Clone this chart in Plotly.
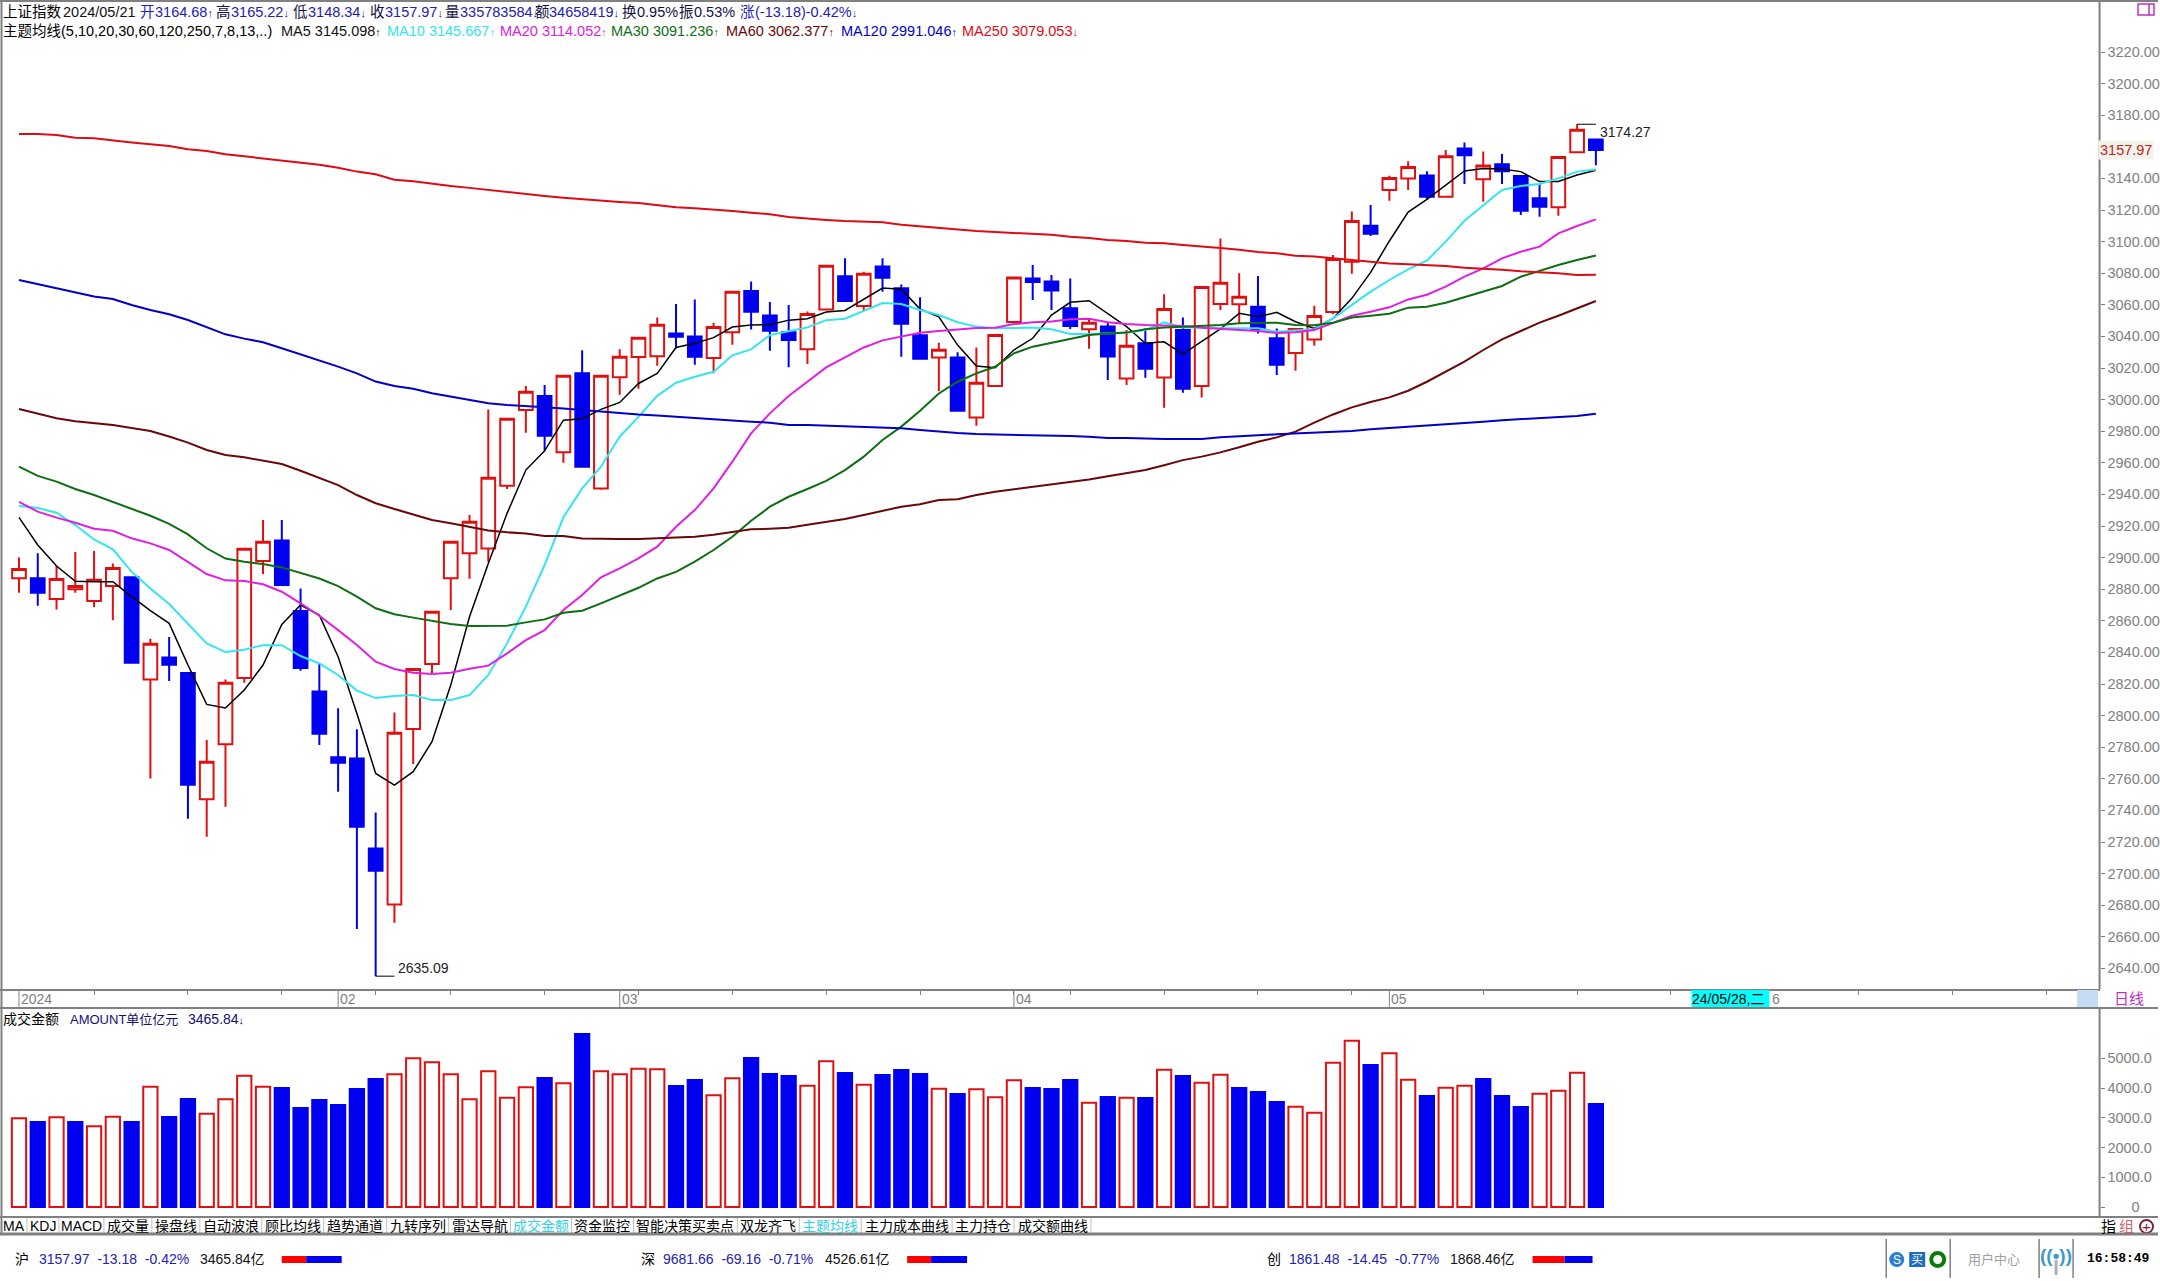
"""
Shanghai Composite daily K-line terminal screen, 2024/01 - 2024/05/21
"""

import plotly.graph_objects as go

W, H = 2160, 1281

open_px = [2886.9, 2886.9, 2873.8, 2879.9, 2872.5, 2882.0, 2887.5, 2822.9, 2836.8, 2826.9,
           2747.0, 2781.8, 2823.8, 2897.8, 2910.9, 2866.2, 2815.3, 2773.6, 2772.9, 2715.9,
           2680.5, 2791.5, 2832.6, 2886.9, 2902.7, 2905.8, 2945.5, 2993.4, 3002.2, 2966.6,
           3016.6, 2943.8, 3014.2, 3026.9, 3027.5, 3041.9, 3040.0, 3026.3, 3042.7, 3068.7,
           3053.3, 3042.7, 3031.8, 3057.1, 3078.0, 3059.2, 3084.3, 3070.4, 3040.8, 3026.7,
           3026.7, 2988.7, 3008.6, 3049.1, 3076.7, 3074.8, 3057.8, 3044.5, 3046.2, 3013.4,
           3035.6, 3014.0, 3044.0, 3008.6, 3060.5, 3060.3, 3058.8, 3038.8, 3029.5, 3038.1,
           3055.4, 3087.3, 3110.1, 3132.7, 3140.0, 3141.9, 3128.4, 3159.0, 3139.4, 3148.9,
           3141.5, 3127.4, 3121.7, 3156.5, 3164.68]
close_px = [2892.8, 2877.8, 2886.4, 2882.0, 2886.0, 2893.4, 2833.5, 2845.5, 2832.2, 2756.2,
            2770.8, 2820.8, 2905.6, 2910.1, 2882.6, 2830.1, 2788.5, 2770.2, 2729.7, 2701.8,
            2789.2, 2829.5, 2865.8, 2910.1, 2922.7, 2950.5, 2987.9, 3005.0, 2977.1, 3015.1,
            2957.5, 3015.1, 3027.1, 3039.1, 3047.4, 3039.8, 3027.1, 3045.9, 3068.3, 3055.6,
            3043.6, 3037.7, 3054.1, 3084.7, 3062.4, 3079.7, 3077.1, 3048.0, 3025.9, 3031.5,
            2992.9, 3010.7, 3040.9, 3077.2, 3074.4, 3069.0, 3046.6, 3048.7, 3027.2, 3034.1,
            3019.6, 3057.3, 3006.9, 3071.3, 3074.0, 3065.1, 3044.5, 3022.1, 3044.7, 3052.9,
            3089.0, 3113.0, 3105.0, 3140.3, 3147.2, 3128.4, 3154.0, 3154.6, 3148.1, 3144.5,
            3119.6, 3122.1, 3153.5, 3170.8, 3157.97]
high_px = [2900.1, 2902.7, 2894.7, 2903.5, 2904.2, 2896.3, 2887.5, 2848.7, 2849.7, 2827.0,
           2784.5, 2822.9, 2906.3, 2923.8, 2923.8, 2880.5, 2833.0, 2804.6, 2791.3, 2738.7,
           2802.0, 2829.5, 2866.4, 2910.1, 2926.9, 2993.8, 2987.9, 3008.6, 3009.2, 3015.1,
           3031.3, 3015.1, 3031.8, 3039.5, 3052.0, 3060.5, 3063.4, 3048.6, 3068.3, 3074.8,
           3061.7, 3059.8, 3055.8, 3084.7, 3089.4, 3080.9, 3089.4, 3072.9, 3064.7, 3036.0,
           3029.9, 3033.0, 3041.0, 3077.6, 3085.2, 3078.9, 3076.7, 3051.4, 3049.0, 3044.0,
           3045.0, 3066.6, 3052.0, 3071.6, 3102.0, 3079.9, 3078.2, 3045.0, 3044.9, 3059.4,
           3091.5, 3119.0, 3123.2, 3141.7, 3150.8, 3144.5, 3158.0, 3162.8, 3157.1, 3155.4,
           3142.0, 3137.0, 3153.8, 3174.27, 3165.22]
low_px = [2877.8, 2869.6, 2867.2, 2877.8, 2868.5, 2860.3, 2833.0, 2760.2, 2821.9, 2734.7,
          2723.3, 2742.3, 2820.8, 2889.6, 2882.0, 2828.4, 2781.4, 2751.8, 2664.9, 2635.09,
          2668.9, 2769.3, 2826.7, 2866.8, 2886.6, 2897.4, 2943.4, 2979.0, 2968.0, 2960.0,
          2957.0, 2943.0, 3003.0, 3006.9, 3021.4, 3032.4, 3022.0, 3016.6, 3034.7, 3044.4,
          3030.9, 3020.4, 3022.5, 3056.5, 3062.0, 3056.0, 3068.3, 3027.1, 3025.4, 3005.4,
          2992.3, 2983.4, 3007.9, 3047.9, 3063.0, 3056.7, 3044.7, 3032.2, 3012.4, 3009.2,
          3013.9, 2994.9, 3004.4, 3001.4, 3056.7, 3048.3, 3041.9, 3015.5, 3018.3, 3034.1,
          3054.0, 3079.7, 3103.5, 3125.9, 3132.7, 3126.3, 3128.0, 3136.5, 3125.3, 3136.5,
          3116.8, 3115.8, 3116.4, 3155.9, 3148.34]

ma5 = [2925.5, 2908.0, 2894.7, 2885.0, 2884.7, 2884.7, 2875.3, 2866.4, 2858.4, 2832.0,
       2807.1, 2804.8, 2816.2, 2832.0, 2857.7, 2870.0, 2863.6, 2837.3, 2801.4, 2763.4,
       2756.0, 2764.5, 2783.5, 2819.3, 2862.6, 2896.3, 2928.0, 2955.4, 2967.6, 2987.0,
       2987.9, 2993.8, 2998.2, 3010.2, 3016.6, 3033.0, 3035.6, 3039.2, 3045.9, 3047.2,
       3047.4, 3050.3, 3051.2, 3055.4, 3056.4, 3063.6, 3070.6, 3069.9, 3057.3, 3052.4,
       3034.5, 3021.3, 3020.2, 3031.4, 3038.8, 3053.5, 3061.6, 3062.6, 3054.2, 3046.2,
       3035.6, 3036.6, 3028.8, 3036.6, 3044.7, 3054.6, 3052.5, 3055.2, 3049.3, 3045.1,
       3051.4, 3064.1, 3080.5, 3100.4, 3118.7, 3126.7, 3135.8, 3144.7, 3146.2, 3146.0,
       3144.3, 3138.0, 3138.1, 3142.2, 3145.098]
ma10 = [2932.6, 2931.4, 2928.4, 2920.6, 2911.5, 2905.2, 2891.1, 2880.5, 2870.6, 2858.4,
        2845.7, 2840.2, 2841.7, 2844.6, 2844.6, 2837.7, 2833.0, 2825.7, 2815.8, 2811.1,
        2812.4, 2813.0, 2809.8, 2809.8, 2813.0, 2825.7, 2845.7, 2869.0, 2895.3, 2925.5,
        2943.8, 2957.5, 2976.5, 2989.1, 3002.4, 3010.7, 3014.5, 3017.6, 3028.0, 3031.8,
        3040.8, 3043.2, 3045.7, 3050.3, 3051.2, 3056.2, 3061.1, 3060.5, 3056.7, 3053.5,
        3049.0, 3046.2, 3045.1, 3045.3, 3045.7, 3044.5, 3041.5, 3041.5, 3041.9, 3042.3,
        3044.0, 3048.9, 3045.7, 3045.7, 3045.1, 3044.9, 3045.1, 3043.0, 3043.6, 3044.5,
        3051.4, 3059.9, 3068.3, 3075.7, 3082.4, 3087.9, 3100.0, 3113.2, 3123.2, 3132.7,
        3135.2, 3136.5, 3140.0, 3144.3, 3145.667]
ma20 = [2935.2, 2929.1, 2925.3, 2922.1, 2918.3, 2917.0, 2912.2, 2909.0, 2904.8, 2897.4,
        2889.6, 2885.6, 2885.2, 2883.1, 2878.4, 2871.0, 2863.2, 2854.1, 2844.7, 2834.1,
        2829.5, 2827.1, 2826.3, 2827.1, 2829.7, 2831.6, 2839.4, 2847.8, 2854.1, 2866.8,
        2876.3, 2887.5, 2893.2, 2899.5, 2906.9, 2919.5, 2930.1, 2943.8, 2960.7, 2978.6,
        2991.3, 3002.3, 3011.3, 3020.4, 3026.7, 3033.0, 3037.5, 3039.8, 3042.3, 3043.4,
        3044.4, 3045.3, 3045.5, 3047.8, 3048.9, 3049.5, 3050.8, 3051.2, 3048.9, 3047.8,
        3047.2, 3047.0, 3046.6, 3045.5, 3044.9, 3044.0, 3043.4, 3042.1, 3042.6, 3044.0,
        3048.7, 3053.1, 3055.6, 3058.4, 3063.4, 3066.4, 3071.5, 3077.8, 3083.0, 3089.4,
        3093.6, 3096.8, 3105.2, 3109.9, 3114.052]
ma30 = [2957.6, 2951.7, 2948.1, 2943.4, 2939.6, 2935.4, 2930.8, 2926.5, 2921.3, 2914.7,
        2905.9, 2899.4, 2897.4, 2895.9, 2893.8, 2890.4, 2886.8, 2882.0, 2875.3, 2867.9,
        2864.1, 2862.0, 2860.1, 2858.0, 2856.7, 2856.7, 2856.9, 2859.0, 2860.9, 2865.1,
        2866.4, 2871.0, 2875.9, 2880.9, 2886.8, 2891.0, 2897.4, 2904.8, 2913.2, 2923.3,
        2932.2, 2938.5, 2943.4, 2948.6, 2955.4, 2963.9, 2974.4, 2982.9, 2993.0, 3003.9,
        3011.3, 3016.6, 3020.8, 3029.3, 3033.5, 3036.0, 3038.8, 3040.9, 3041.9, 3042.4,
        3044.5, 3045.7, 3046.1, 3046.6, 3047.2, 3048.3, 3048.7, 3048.7, 3047.2, 3047.0,
        3048.7, 3052.0, 3053.1, 3054.4, 3058.2, 3058.8, 3061.3, 3064.7, 3068.3, 3071.9,
        3077.8, 3081.4, 3085.2, 3088.3, 3091.236]
ma60 = [2994.0, 2991.3, 2988.2, 2986.3, 2985.0, 2983.9, 2982.0, 2980.1, 2976.6, 2972.8,
        2968.1, 2964.9, 2963.5, 2961.4, 2959.2, 2955.0, 2950.2, 2945.9, 2939.6, 2934.4,
        2930.8, 2927.4, 2923.8, 2921.7, 2919.6, 2917.1, 2916.0, 2915.3, 2913.6, 2913.6,
        2912.1, 2911.7, 2911.7, 2911.7, 2912.2, 2912.6, 2913.2, 2914.5, 2916.4, 2917.9,
        2918.3, 2918.9, 2920.8, 2922.7, 2924.4, 2926.9, 2929.7, 2932.2, 2933.7, 2936.4,
        2937.0, 2939.6, 2941.7, 2943.2, 2944.9, 2946.5, 2948.0, 2949.5, 2951.5, 2953.5,
        2955.5, 2958.5, 2961.7, 2963.9, 2966.6, 2969.8, 2973.3, 2976.1, 2979.7, 2985.4,
        2990.6, 2995.1, 2998.5, 3001.4, 3005.6, 3011.3, 3017.7, 3024.0, 3031.4, 3038.1,
        3043.4, 3048.7, 3053.1, 3057.8, 3062.377]
ma120 = [3075.7, 3073.0, 3070.4, 3067.7, 3065.2, 3063.7, 3059.9, 3056.7, 3054.0, 3050.4,
         3045.8, 3041.3, 3038.6, 3036.3, 3032.5, 3028.7, 3025.1, 3020.9, 3016.6, 3011.4,
         3008.6, 3006.9, 3004.0, 3001.9, 2999.8, 2997.7, 2996.6, 2995.7, 2995.1, 2994.4,
         2993.4, 2992.5, 2991.7, 2990.6, 2990.0, 2989.2, 2988.1, 2987.5, 2986.6, 2986.0,
         2985.4, 2983.9, 2983.9, 2983.5, 2983.3, 2982.9, 2982.2, 2981.8, 2980.7, 2979.7,
         2978.8, 2978.2, 2978.0, 2977.6, 2977.6, 2977.1, 2976.9, 2976.5, 2975.7, 2975.7,
         2975.3, 2975.0, 2975.0, 2975.0, 2976.1, 2976.9, 2977.4, 2978.0, 2978.6, 2979.0,
         2979.5, 2980.1, 2981.2, 2982.0, 2982.9, 2983.5, 2984.3, 2984.9, 2986.0, 2987.0,
         2987.7, 2988.3, 2989.0, 2989.6, 2991.046]
ma250 = [3168.1, 3168.1, 3167.5, 3165.8, 3165.4, 3163.9, 3162.7, 3161.6, 3160.5, 3158.4,
         3157.4, 3155.3, 3154.0, 3152.9, 3151.7, 3150.2, 3148.7, 3146.8, 3144.3, 3142.6,
         3139.2, 3138.2, 3136.5, 3135.2, 3134.0, 3132.7, 3131.2, 3130.3, 3128.9, 3127.8,
         3126.8, 3126.1, 3125.1, 3124.4, 3123.2, 3121.7, 3121.1, 3120.4, 3119.4, 3118.3,
         3117.3, 3115.6, 3114.5, 3113.7, 3113.0, 3112.4, 3112.2, 3110.7, 3109.7, 3108.4,
         3107.5, 3106.7, 3106.0, 3105.4, 3105.0, 3104.4, 3103.1, 3102.3, 3101.0, 3100.4,
         3099.3, 3098.9, 3097.8, 3097.0, 3095.9, 3094.9, 3093.4, 3092.6, 3091.1, 3090.5,
         3089.4, 3088.3, 3087.1, 3086.2, 3085.6, 3085.2, 3084.5, 3083.5, 3082.9, 3082.2,
         3081.2, 3080.7, 3079.9, 3078.8, 3079.053]

amount = [2982, 2859, 3015, 2859, 2713, 3038, 2859, 4047, 3027, 3632,
          3139, 3621, 4417, 4047, 4002, 3329, 3598, 3430, 3968, 4305,
          4462, 5000, 4865, 4462, 3621, 4562, 3677, 4024, 4338, 4159,
          5818, 4562, 4462, 4652, 4630, 4069, 4271, 3755, 4327, 5011,
          4473, 4406, 4080, 4899, 4506, 4114, 4439, 4607, 4473, 3980,
          3800, 3957, 3688, 4260, 4002, 3968, 4271, 3509, 3699, 3677,
          3666, 4619, 4406, 4181, 4450, 4002, 3867, 3531, 3374, 3172,
          4854, 5594, 4775, 5168, 4282, 3733, 4013, 4080, 4305, 3733,
          3363, 3811, 3912, 4518, 3465.84]

price_ticks = [t for t in range(2640, 3221, 20) if t != 3160]
amount_ticks = [0, 1000, 2000, 3000, 4000, 5000]
amount_tick_labels = ["\u00a0" * 6 + "0", "1000.0", "2000.0", "3000.0", "4000.0", "5000.0"]
minor_ticks = [4, 9, 14, 19, 23, 28, 33, 38, 43, 48, 53, 56, 61, 66, 71, 78, 83, 88, 93, 98, 103, 108]
month_ticks = [0, 17, 32, 53, 73, 93]
month_labels = ["2024", "02", "03", "04", "05", "6"]

ma_series = [
    ("MA5", ma5, "#000000", 1.5),
    ("MA10", ma10, "#33e6ee", 2),
    ("MA20", ma20, "#e020e0", 2),
    ("MA30", ma30, "#0e6e12", 2),
    ("MA60", ma60, "#6a0808", 2),
    ("MA120", ma120, "#0000c8", 2),
    ("MA250", ma250, "#e00a14", 2),
]

RED = "#e01010"
BLUE = "#0000f0"
GREY = "#808080"
TXT_BLUE = "#2222b0"
FONT = "Liberation Sans, Noto Sans CJK SC"
DAY_PX = 18.79

days = list(range(len(close_px)))
# the amount bars follow close against the previous close, not the candle body
amount_colors = [RED] + [RED if c >= p else BLUE for p, c in zip(close_px, close_px[1:])]


def fx(v):
    return v / W


def fy(v):
    return 1 - v / H


def arrow(text):
    # the terminal's arrows are narrow, Liberation's are 1em wide
    for a in "↑↓":
        text = text.replace(a, f'<span style="font-size:11px">{a}</span>')
    return text


annotations = []
shapes = []


def label(x, y, text, color="black", size=15, anchor="left", **kw):
    annotations.append(
        dict(
            x=fx(x), y=fy(y), xref="paper", yref="paper", text=arrow(text), showarrow=False,
            xanchor=anchor, yanchor="middle", borderpad=0, borderwidth=0,
            font=dict(family=FONT, size=size, color=color), **kw,
        )
    )


def rect(x0, y0, x1, y1, fill, line=None, width=0):
    shapes.append(
        dict(
            type="rect", xref="paper", yref="paper", x0=fx(x0), x1=fx(x1), y0=fy(y0), y1=fy(y1),
            fillcolor=fill, line=dict(color=line or fill, width=width), layer="above",
        )
    )


def hline(y, x0=0, x1=W, color=GREY, width=2):
    shapes.append(dict(type="line", xref="paper", yref="paper", x0=fx(x0), x1=fx(x1), y0=fy(y), y1=fy(y),
                       line=dict(color=color, width=width), layer="above"))


def vline(x, y0, y1, color=GREY, width=2):
    shapes.append(dict(type="line", xref="paper", yref="paper", x0=fx(x), x1=fx(x), y0=fy(y0), y1=fy(y1),
                       line=dict(color=color, width=width), layer="above"))


fig = go.Figure()
fig.add_trace(
    go.Candlestick(
        x=days, open=open_px, high=high_px, low=low_px, close=close_px,
        increasing=dict(line=dict(color=RED, width=2), fillcolor="white"),
        decreasing=dict(line=dict(color=BLUE, width=2), fillcolor=BLUE),
        whiskerwidth=0, xaxis="x", yaxis="y", showlegend=False,
    )
)
for name, values, color, width in ma_series:
    fig.add_trace(
        go.Scatter(x=days, y=values, mode="lines", name=name, line=dict(color=color, width=width), showlegend=False)
    )

# leader lines to the min / max labels
low_day = low_px.index(min(low_px))
high_day = high_px.index(max(high_px))
for d, v in [(low_day, low_px[low_day]), (high_day, high_px[high_day])]:
    fig.add_trace(
        go.Scatter(x=[d, d + 1], y=[v, v], mode="lines", line=dict(color="black", width=1), showlegend=False)
    )
annotations.append(dict(x=low_day + 1, y=low_px[low_day], xref="x", yref="y", text="2635.09", showarrow=False,
                        xanchor="left", yanchor="middle", yshift=8, xshift=2,
                        font=dict(family=FONT, size=14, color="#222222")))
annotations.append(dict(x=high_day + 1, y=high_px[high_day], xref="x", yref="y", text="3174.27", showarrow=False,
                        xanchor="left", yanchor="middle", yshift=-8, xshift=2,
                        font=dict(family=FONT, size=14, color="#222222")))

fig.add_trace(
    go.Bar(
        x=days, y=amount, xaxis="x2", yaxis="y2", width=0.76, showlegend=False,
        marker=dict(color=["white" if c == RED else BLUE for c in amount_colors],
                    line=dict(color=amount_colors, width=2)),
    )
)

# price box on the axis
annotations.append(dict(x=1, y=close_px[-1], xref="paper", yref="y", text="3157.97", showarrow=False,
                        xanchor="right", yanchor="middle", xshift=-4, bgcolor="#f0f4ea",
                        font=dict(family=FONT, size=14.5, color="#c82020")))

# header rows
row1 = [
    (3, "上证指数", "black"), (63, "2024/05/21", "#111111"), (140, "开", TXT_BLUE), (155, "3164.68↑", TXT_BLUE),
    (216, "高", "#111144"), (231, "3165.22↓", TXT_BLUE), (293, "低", "#111144"), (308, "3148.34↓", TXT_BLUE),
    (370, "收", "#111144"), (385, "3157.97↓", TXT_BLUE), (445, "量", "#111144"), (460, "335783584↓", TXT_BLUE),
    (535, "额", "#111144"), (550, "34658419↓", TXT_BLUE), (623, "换", "#111144"), (638, "0.95%", "#111144"),
    (680, "振", "#111144"), (695, "0.53%", "#111144"), (741, "涨", TXT_BLUE), (756, "(-13.18)-0.42%↓", TXT_BLUE),
]
for x, text, color in row1:
    label(x, 11.5, text, color, 14.5)
label(3, 30.5, "主题均线(5,10,20,30,60,120,250,7,8,13,..)", "black", 14.5)
row2 = [
    (281, "MA5", "#111111", "3145.098↑"), (387, "MA10", "#33e6ee", "3145.667↑"),
    (500, "MA20", "#e020e0", "3114.052↑"), (612, "MA30", "#0e6e12", "3091.236↑"),
    (727, "MA60", "#6a0808", "3062.377↑"), (842, "MA120", "#0000c8", "2991.046↑"),
    (963, "MA250", "#e00a14", "3079.053↓"),
]
for x, name, color, text in row2:
    label(x, 30.5, f"{name} {text}", color, 14.5)

# lower panel title
label(3, 1019, "成交金额", "black", 14)
label(70, 1019, "AMOUNT单位亿元", "#101070", 13)
label(188, 1019, "3465.84↓", "#101070", 14)

# date strip
for tick, text in zip(month_ticks, month_labels):
    x = 19 + DAY_PX * tick
    if text != "6":
        vline(x, 989, 1008, GREY, 1)
    label(x + (2 if text != "6" else 7), 998.5, text, GREY, 14)
rect(1693, 990, 1771, 1007, "#00ffff")
label(1694, 998.5, "24/05/28,二", "black", 14)
rect(2079, 990, 2100, 1007, "#c5dcf5")
label(2116, 998.5, "日线", "#c030c0", 15)

# tab bar
tab_edges = [2, 27, 59, 104, 152, 200, 262, 324, 387, 449, 511, 572, 634, 738, 800, 862, 953, 1015, 1092]
tab_names = ["MA", "KDJ", "MACD", "成交量", "操盘线", "自动波浪", "顾比均线", "趋势通道", "九转序列", "雷达导航",
             "成交金额", "资金监控", "智能决策买卖点", "双龙齐飞", "主题均线", "主力成本曲线", "主力持仓", "成交额曲线"]
for left, right, name in zip(tab_edges, tab_edges[1:], tab_names):
    color = "#33d0e0" if name in ("成交金额", "主题均线") else "black"
    label((left + right) / 2, 1226, name, color, 14, anchor="center")
    vline(right, 1218, 1234, "#c0c0c0", 1)
label(2110, 1226, "指", "black", 15, anchor="center")
label(2128, 1226, "组", "#d06070", 15, anchor="center")
shapes.append(dict(type="circle", xref="paper", yref="paper", x0=fx(2142), x1=fx(2155), y0=fy(1233), y1=fy(1220),
                   line=dict(color="#802030", width=2), fillcolor="white", layer="above"))
label(2148.5, 1226, "+", "#802030", 15, anchor="center")

# status bar
status = [
    (15, "沪", 39, "3157.97  -13.18  -0.42%", 200, "3465.84亿", (282, 306.5, 342)),
    (642, "深", 664, "9681.66  -69.16  -0.71%", 826, "4526.61亿", (908, 932, 968)),
    (1268, "创", 1290, "1861.48  -14.45  -0.77%", 1451, "1868.46亿", (1534, 1566, 1594)),
]
for x_name, name, x_val, vals, x_amt, amt, bar in status:
    label(x_name, 1259, name, "black", 14)
    label(x_val, 1259, vals.replace("  ", " \u00a0"), TXT_BLUE, 14)
    label(x_amt, 1259, amt, "#111111", 14)
    rect(bar[0], 1256, bar[1], 1263, "#ff0000")
    rect(bar[1], 1256, bar[2], 1263, "#0000f0")

for x in (1888, 1952, 2041, 2075):
    vline(x, 1239, 1278, GREY, 1.5)
shapes.append(dict(type="circle", xref="paper", yref="paper", x0=fx(1891), x1=fx(1906), y0=fy(1267), y1=fy(1252),
                   fillcolor="#2a7fd0", line=dict(color="#2a7fd0", width=0), layer="above"))
label(1898.5, 1259.5, "S", "white", 12, anchor="center")
rect(1911, 1252, 1927, 1267, "#1e6cc0")
label(1919, 1259.5, "买", "white", 12, anchor="center")
shapes.append(dict(type="circle", xref="paper", yref="paper", x0=fx(1933), x1=fx(1946), y0=fy(1266), y1=fy(1253),
                   fillcolor="white", line=dict(color="#0a7a0a", width=4), layer="above"))
label(1970, 1259, "用户中心", "#a0a0a0", 13)
vline(2058, 1260, 1275, "#b0b0b0", 3)
label(2058, 1255, "<b>((•))</b>", "#3a9ac8", 19, anchor="center")
annotations.append(dict(x=fx(2120), y=fy(1258), xref="paper", yref="paper", text="<b>16:58:49</b>", showarrow=False,
                        xanchor="center", yanchor="middle",
                        font=dict(family="Liberation Mono", size=13, color="black")))

# frame
hline(1)
vline(1.5, 0, 1234)
hline(1008)
hline(1217)
hline(1234, width=3)
vline(2101.5, 0, 989)
vline(2101.5, 1008, 1217)
# top-right window button
rect(2140, 4, 2156, 15, "white", "#c030c0", 1.5)
vline(2151, 4, 15, "#c030c0", 1.5)

plot_right = 2101.5
x_range = [-19 / DAY_PX, (plot_right - 19) / DAY_PX]

fig.update_layout(
    width=W,
    height=H,
    autosize=False,
    margin=dict(l=0, r=0, t=0, b=0, pad=0),
    paper_bgcolor="white",
    plot_bgcolor="white",
    boxgap=0.27,
    boxgroupgap=0,
    bargap=0.2,
    showlegend=False,
    annotations=annotations,
    shapes=shapes,
    xaxis=dict(
        domain=[0, fx(plot_right)], range=x_range, anchor="y", tickvals=minor_ticks, ticks="outside", ticklen=4,
        tickcolor=GREY, showticklabels=False, showgrid=False, zeroline=False, showline=True, linecolor=GREY,
        linewidth=2, rangeslider=dict(visible=False),
    ),
    yaxis=dict(
        domain=[fy(989), fy(1)], range=[3220 - (989 - 52) / 1.58, 3220 + 51 / 1.58], side="right", anchor="x",
        tickvals=price_ticks + [close_px[-1]], ticktext=[f"{t:.2f}" for t in price_ticks] + [""], ticks="outside",
        ticklen=4, tickcolor=GREY, tickfont=dict(family=FONT, size=14.5, color=GREY), showgrid=False,
        zeroline=False, showline=False,
    ),
    xaxis2=dict(
        domain=[0, fx(plot_right)], range=x_range, anchor="y2", showticklabels=False, ticks="", showgrid=False,
        zeroline=False,
    ),
    yaxis2=dict(
        domain=[fy(1217), fy(1008)], range=[-336, 6691], side="right", anchor="x2", tickvals=amount_ticks,
        ticktext=amount_tick_labels, ticks="outside", ticklen=4, tickcolor=GREY,
        tickfont=dict(family=FONT, size=14.5, color=GREY), showgrid=False, zeroline=False, showline=False,
    ),
)

# the page's default body margin would push the 2160px figure off the window
fig.write_html(
    "out.html",
    config=dict(displayModeBar=False),
    post_script="document.body.style.margin='0';document.body.style.overflow='hidden';",
)
